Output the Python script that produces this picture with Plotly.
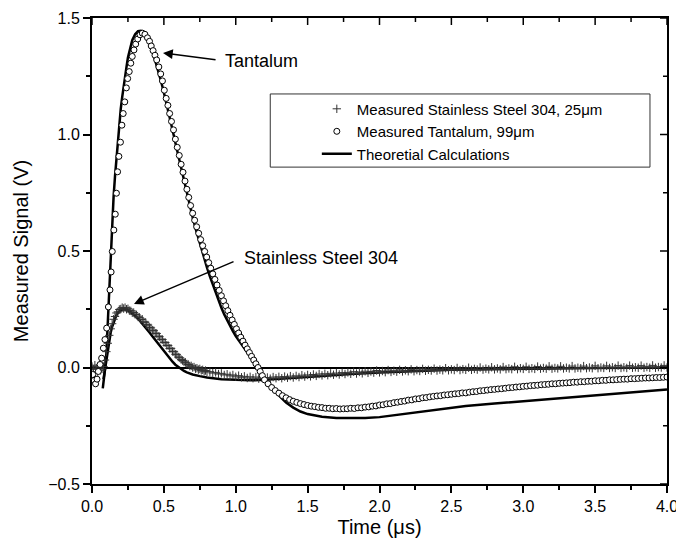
import plotly.graph_objects as go

# ---------------- data ----------------
# Theoretical calculation, Tantalum  (time µs, signal V)
ta_theory = [
    (0.075, -0.09), (0.08, -0.07), (0.09, -0.01), (0.10, 0.06), (0.11, 0.20),
    (0.12, 0.35), (0.13, 0.49), (0.14, 0.62), (0.15, 0.73), (0.16, 0.82),
    (0.17, 0.90), (0.18, 0.98), (0.19, 1.05), (0.20, 1.11), (0.21, 1.16),
    (0.22, 1.21), (0.23, 1.25), (0.24, 1.29), (0.25, 1.33), (0.26, 1.36),
    (0.28, 1.405), (0.30, 1.43), (0.32, 1.443), (0.34, 1.445), (0.36, 1.435),
    (0.38, 1.42), (0.40, 1.395), (0.42, 1.36), (0.44, 1.32), (0.46, 1.28),
    (0.48, 1.23), (0.50, 1.18), (0.52, 1.13), (0.54, 1.075), (0.56, 1.02),
    (0.58, 0.965), (0.60, 0.91), (0.62, 0.855), (0.64, 0.80), (0.66, 0.747),
    (0.68, 0.695), (0.70, 0.645), (0.72, 0.598), (0.74, 0.553), (0.76, 0.51),
    (0.78, 0.469), (0.80, 0.429), (0.82, 0.391), (0.84, 0.355), (0.86, 0.32),
    (0.88, 0.287), (0.90, 0.256), (0.92, 0.228), (0.94, 0.202), (0.96, 0.178),
    (0.98, 0.156), (1.00, 0.135), (1.02, 0.117), (1.04, 0.10), (1.06, 0.084),
    (1.08, 0.067), (1.10, 0.05), (1.12, 0.032), (1.14, 0.013), (1.16, -0.006),
    (1.18, -0.025), (1.20, -0.044), (1.25, -0.085), (1.30, -0.12), (1.35, -0.15),
    (1.40, -0.172), (1.45, -0.189), (1.50, -0.20), (1.60, -0.211), (1.70, -0.217),
    (1.80, -0.218), (1.90, -0.217), (2.00, -0.213), (2.20, -0.197), (2.40, -0.178),
    (2.60, -0.165), (2.80, -0.155), (3.00, -0.145), (3.20, -0.135), (3.40, -0.126),
    (3.60, -0.117), (3.80, -0.107), (4.00, -0.094),
]

# Theoretical calculation, Stainless Steel 304
ss_theory = [
    (0.08, -0.05), (0.09, -0.01), (0.10, 0.04), (0.11, 0.085), (0.12, 0.12),
    (0.13, 0.15), (0.14, 0.175), (0.15, 0.195), (0.16, 0.21), (0.17, 0.225),
    (0.18, 0.235), (0.19, 0.242), (0.20, 0.247), (0.22, 0.25), (0.24, 0.248),
    (0.26, 0.242), (0.28, 0.233), (0.30, 0.222), (0.32, 0.21), (0.34, 0.196),
    (0.36, 0.181), (0.38, 0.166), (0.40, 0.15), (0.42, 0.134), (0.44, 0.118),
    (0.46, 0.102), (0.48, 0.087), (0.50, 0.072), (0.52, 0.057), (0.54, 0.04),
    (0.56, 0.025), (0.58, 0.012), (0.60, 0.002), (0.62, -0.007), (0.64, -0.015),
    (0.66, -0.021), (0.68, -0.026), (0.70, -0.03), (0.75, -0.037), (0.80, -0.043),
    (0.90, -0.05), (1.00, -0.054), (1.10, -0.055), (1.20, -0.053), (1.40, -0.046),
    (1.60, -0.037), (1.80, -0.028), (2.00, -0.021), (2.50, -0.01), (3.00, -0.005),
    (3.50, -0.002), (4.00, 0.0),
]

# Measured Tantalum, 99 µm - early part (irregular sample times)
ta_meas_early = [
    (0.005, -0.03), (0.015, -0.055), (0.025, -0.07), (0.035, -0.05), (0.044, -0.017),
    (0.056, 0.013), (0.067, 0.04), (0.079, 0.083), (0.09, 0.12), (0.102, 0.169),
    (0.114, 0.26), (0.125, 0.333), (0.133, 0.41), (0.141, 0.498), (0.152, 0.59),
    (0.162, 0.658), (0.17, 0.748), (0.178, 0.84), (0.187, 0.906), (0.198, 0.967),
    (0.208, 1.04), (0.217, 1.09), (0.228, 1.14), (0.239, 1.2), (0.248, 1.24),
    (0.259, 1.27), (0.27, 1.306), (0.28, 1.335), (0.292, 1.363), (0.304, 1.388),
    (0.318, 1.41), (0.334, 1.428), (0.35, 1.435), (0.368, 1.43), (0.386, 1.415),
    (0.40, 1.40), (0.412, 1.38), (0.425, 1.36), (0.438, 1.34), (0.45, 1.32),
    (0.465, 1.29), (0.478, 1.26), (0.49, 1.23), (0.503, 1.19), (0.516, 1.155),
    (0.528, 1.125), (0.54, 1.09), (0.553, 1.056), (0.567, 1.02), (0.58, 0.98),
    (0.593, 0.945), (0.607, 0.91), (0.62, 0.872), (0.633, 0.838), (0.647, 0.80),
    (0.66, 0.765), (0.673, 0.73), (0.686, 0.695), (0.70, 0.662), (0.714, 0.632),
    (0.728, 0.604), (0.742, 0.576), (0.756, 0.549), (0.77, 0.523), (0.784, 0.498),
    (0.798, 0.474), (0.812, 0.45), (0.826, 0.426), (0.84, 0.402), (0.855, 0.378),
    (0.87, 0.354), (0.885, 0.331), (0.90, 0.308), (0.915, 0.286), (0.93, 0.265),
    (0.945, 0.244), (0.96, 0.224), (0.975, 0.204), (0.99, 0.185), (1.005, 0.166),
    (1.02, 0.148), (1.035, 0.13), (1.05, 0.113), (1.065, 0.096), (1.08, 0.08),
    (1.095, 0.064), (1.11, 0.048), (1.125, 0.032), (1.14, 0.016), (1.155, 0.0),
    (1.17, -0.017), (1.185, -0.035),
]

# Measured Tantalum - tail, sampled every 0.025 µs from 1.200 µs
ta_tail_start, ta_tail_step = 1.2, 0.025
ta_meas_tail = [
    -0.053, -0.070, -0.086, -0.099, -0.110, -0.121, -0.130, -0.138, -0.145, -0.150,
    -0.155, -0.159, -0.163, -0.166, -0.168, -0.171, -0.172, -0.175, -0.175, -0.177,
    -0.176, -0.178, -0.177, -0.177, -0.175, -0.176, -0.173, -0.173, -0.170, -0.169,
    -0.166, -0.165, -0.161, -0.160, -0.156, -0.155, -0.151, -0.149, -0.146, -0.144,
    -0.140, -0.139, -0.135, -0.134, -0.130, -0.129, -0.126, -0.124, -0.122, -0.121,
    -0.118, -0.117, -0.115, -0.113, -0.112, -0.109, -0.109, -0.106, -0.104, -0.103,
    -0.100, -0.099, -0.097, -0.095, -0.094, -0.092, -0.091, -0.089, -0.087, -0.086,
    -0.084, -0.083, -0.081, -0.080, -0.078, -0.077, -0.076, -0.074, -0.073, -0.072,
    -0.070, -0.070, -0.068, -0.067, -0.066, -0.065, -0.063, -0.063, -0.061, -0.061,
    -0.059, -0.059, -0.057, -0.057, -0.055, -0.055, -0.053, -0.053, -0.052, -0.051,
    -0.050, -0.050, -0.048, -0.048, -0.047, -0.046, -0.045, -0.045, -0.044, -0.043,
    -0.043, -0.042, -0.041,
]

# Measured Stainless Steel 304, 25 µm - every 0.01 µs from 0.00 to 0.80 µs
ss_a_start, ss_a_step = 0.0, 0.01
ss_meas_a = [
    0.004, -0.008, 0.010, -0.004, -0.018, 0.002, -0.012, -0.006, 0.004, 0.032,
    0.068, 0.104, 0.138, 0.166, 0.188, 0.207, 0.219, 0.234, 0.239, 0.249,
    0.251, 0.257, 0.253, 0.257, 0.250, 0.252, 0.244, 0.243, 0.235, 0.236,
    0.228, 0.226, 0.217, 0.215, 0.206, 0.207, 0.196, 0.194, 0.184, 0.182,
    0.172, 0.170, 0.160, 0.158, 0.147, 0.146, 0.134, 0.132, 0.121, 0.120,
    0.108, 0.107, 0.095, 0.094, 0.082, 0.082, 0.069, 0.068, 0.057, 0.055,
    0.045, 0.042, 0.034, 0.030, 0.024, 0.022, 0.015, 0.013, 0.006, 0.007,
    0.000, 0.002, -0.005, -0.003, -0.009, -0.006, -0.012, -0.010, -0.016, -0.013,
    -0.019,
]
# Measured Stainless Steel 304 - every 0.02 µs from 0.82 to 4.00 µs
ss_b_start, ss_b_step = 0.82, 0.02
ss_meas_b = [
    -0.018, -0.024, -0.021, -0.028, -0.025, -0.032, -0.029, -0.036, -0.032, -0.040,
    -0.035, -0.042, -0.038, -0.045, -0.040, -0.046, -0.041, -0.048, -0.042, -0.047,
    -0.043, -0.048, -0.041, -0.046, -0.040, -0.046, -0.039, -0.044, -0.037, -0.043,
    -0.036, -0.041, -0.033, -0.039, -0.032, -0.038, -0.030, -0.036, -0.028, -0.034,
    -0.027, -0.033, -0.025, -0.031, -0.024, -0.030, -0.022, -0.028, -0.021, -0.027,
    -0.018, -0.026, -0.019, -0.025, -0.016, -0.023, -0.017, -0.022, -0.013, -0.021,
    -0.015, -0.020, -0.011, -0.019, -0.014, -0.018, -0.010, -0.017, -0.012, -0.016,
    -0.008, -0.016, -0.011, -0.015, -0.006, -0.014, -0.010, -0.013, -0.005, -0.013,
    -0.009, -0.012, -0.003, -0.012, -0.008, -0.011, -0.002, -0.011, -0.007, -0.010,
    -0.001, -0.010, -0.006, -0.009, 0.000, -0.009, -0.005, -0.008, 0.001, -0.008,
    -0.004, -0.008, 0.002, -0.007, -0.004, -0.007, 0.003, -0.007, -0.003, -0.006,
    0.003, -0.006, -0.003, -0.006, 0.004, -0.005, -0.002, -0.005, 0.005, -0.005,
    -0.002, -0.004, 0.005, -0.004, -0.001, -0.004, 0.006, -0.004, -0.001, -0.003,
    0.006, -0.003, 0.000, -0.003, 0.007, -0.003, 0.000, -0.002, 0.007, -0.002,
    0.001, -0.002, 0.008, -0.002, 0.001, -0.002, 0.008, -0.001, 0.001, -0.001,
    0.008, -0.001, 0.002, -0.001, 0.009, -0.001, 0.002, 0.000, 0.009, 0.000,
]

x_ticks = [0.0, 0.5, 1.0, 1.5, 2.0, 2.5, 3.0, 3.5, 4.0]
y_ticks = [-0.5, 0.0, 0.5, 1.0, 1.5]

legend_names = ["Measured Stainless Steel 304, 25\u03bcm",
                "Measured Tantalum, 99\u03bcm",
                "Theoretial Calculations"]

# ---------------- build series ----------------
ta_th_t, ta_th_v = map(list, zip(*ta_theory))
ss_th_t, ss_th_v = map(list, zip(*ss_theory))
ta_e_t, ta_e_v = map(list, zip(*ta_meas_early))
ta_meas_t = ta_e_t + [round(ta_tail_start + ta_tail_step * i, 4) for i in range(len(ta_meas_tail))]
ta_meas_v = ta_e_v + ta_meas_tail
ss_meas_t = ([round(ss_a_start + ss_a_step * i, 4) for i in range(len(ss_meas_a))] +
             [round(ss_b_start + ss_b_step * i, 4) for i in range(len(ss_meas_b))])
ss_meas_v = ss_meas_a + ss_meas_b

FONT = "Liberation Sans, Arial, Helvetica, sans-serif"
W, H = 676, 546
M = dict(l=92, r=9, t=18, b=62)
PLOT_W = W - M["l"] - M["r"]
PLOT_H = H - M["t"] - M["b"]
MAJOR_LEN, MINOR_LEN = 7, 4

fig = go.Figure()
fig.add_trace(go.Scatter(x=ta_th_t, y=ta_th_v, mode="lines", name=legend_names[2],
                         line=dict(color="black", width=2.5), legendrank=3))
fig.add_trace(go.Scatter(x=ss_th_t, y=ss_th_v, mode="lines", showlegend=False,
                         line=dict(color="black", width=2.5)))
fig.add_trace(go.Scatter(x=ss_meas_t, y=ss_meas_v, mode="markers", name=legend_names[0],
                         marker=dict(symbol="cross-thin-open", size=6, color="#333",
                                     line=dict(width=1, color="#333")),
                         legendrank=1))
fig.add_trace(go.Scatter(x=ta_meas_t, y=ta_meas_v, mode="markers", name=legend_names[1],
                         marker=dict(symbol="circle", size=6, color="white",
                                     line=dict(width=1, color="black")),
                         legendrank=2))

# inward-pointing ticks on the mirrored top and right frame edges
x_minor = [(a + b) / 2 for a, b in zip(x_ticks[:-1], x_ticks[1:])]
y_minor = [(a + b) / 2 for a, b in zip(y_ticks[:-1], y_ticks[1:])]
tick_shapes = []
for vals, ln in ((x_ticks, MAJOR_LEN), (x_minor, MINOR_LEN)):
    for v in vals:
        tick_shapes.append(dict(type="line", xref="x", yref="paper", x0=v, x1=v,
                                y0=1, y1=1 - ln / PLOT_H, line=dict(color="black", width=1.5)))
for vals, ln in ((y_ticks, MAJOR_LEN), (y_minor, MINOR_LEN)):
    for v in vals:
        tick_shapes.append(dict(type="line", xref="paper", yref="y", y0=v, y1=v,
                                x0=1, x1=1 - ln / PLOT_W, line=dict(color="black", width=1.5)))

legend_box = dict(type="rect", xref="paper", yref="paper", x0=0.31, x1=0.9704,
                  y0=0.680, y1=0.837, line=dict(color="#333", width=1),
                  fillcolor="rgba(0,0,0,0)", layer="below")

axis_common = dict(showgrid=False, linecolor="black", tickcolor="black", automargin=False,
                   tickfont=dict(family=FONT, size=16, color="black"))
minor_out = dict(dtick=0.25, tick0=0, ticks="outside", ticklen=MINOR_LEN, tickwidth=1.5,
                 tickcolor="black")

fig.update_layout(
    width=W, height=H,
    margin=M,
    paper_bgcolor="white", plot_bgcolor="white",
    font=dict(family=FONT, size=16, color="black"),
    xaxis=dict(range=[0, 4], tickmode="array", tickvals=x_ticks, tickformat=".1f",
               ticks="outside", ticklen=MAJOR_LEN, tickwidth=1.5, showline=True, linewidth=2,
               mirror=True, zeroline=False, ticklabeloverflow="allow", minor=minor_out,
               title=dict(text="Time (\u03bcs)", font=dict(family=FONT, size=20), standoff=6),
               **axis_common),
    yaxis=dict(range=[-0.5, 1.5], tickmode="array", tickvals=y_ticks, tickformat=".1f",
               ticks="outside", ticklen=MAJOR_LEN, tickwidth=1.5, showline=True, linewidth=2,
               mirror=True, zeroline=True, zerolinecolor="black", zerolinewidth=1.5,
               ticklabeloverflow="allow", minor=minor_out,
               title=dict(text="Measured Signal (V)", font=dict(family=FONT, size=20), standoff=14),
               **axis_common),
    showlegend=True,
    legend=dict(x=0.391, y=0.840, xanchor="left", yanchor="top",
                bgcolor="rgba(0,0,0,0)", borderwidth=0, itemwidth=30,
                font=dict(family=FONT, size=15, color="black")),
    shapes=[legend_box] + tick_shapes,
    annotations=[
        dict(x=0.494, y=1.35, ax=0.870, ay=1.32, xref="x", yref="y", axref="x", ayref="y",
             text="", showarrow=True, arrowhead=2, arrowsize=1.3, arrowwidth=1.5,
             arrowcolor="black"),
        dict(x=0.911, y=1.315, xref="x", yref="y", text="Tantalum", showarrow=False,
             xanchor="left", yanchor="middle", font=dict(family=FONT, size=18)),
        dict(x=0.292, y=0.273, ax=0.995, ay=0.457, xref="x", yref="y", axref="x", ayref="y",
             text="", showarrow=True, arrowhead=2, arrowsize=1.3, arrowwidth=1.5,
             arrowcolor="black"),
        dict(x=1.043, y=0.47, xref="x", yref="y", text="Stainless Steel 304", showarrow=False,
             xanchor="left", yanchor="middle", font=dict(family=FONT, size=18)),
    ],
)

# remove the page's default body margin so the 676x546 figure fills the window exactly
fig.write_html("out.html", config={"displayModeBar": False},
               post_script="document.body.style.margin='0';document.body.style.overflow='hidden';")
